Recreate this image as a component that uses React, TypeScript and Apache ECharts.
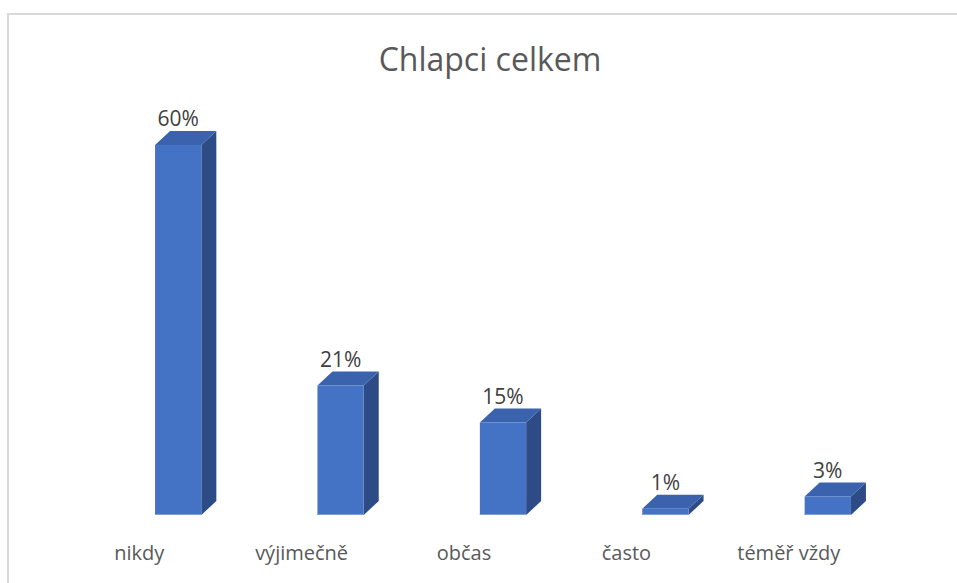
import React, { useEffect, useRef } from "react";
import * as echarts from "echarts";

const titleText = "Chlapci celkem";
const categories = ["nikdy", "výjimečně", "občas", "často", "téměř vždy"];
const values = [60, 21, 15, 1, 3];

const FONT = "'Open Sans', 'Noto Sans', sans-serif";

export default function App() {
  const ref = useRef<HTMLDivElement>(null);

  useEffect(() => {
    if (!ref.current) return;
    const chart = echarts.init(ref.current, null, { renderer: "svg" });

    const dx = 15;
    const dy = 14;

    const renderItem = (params: any, api: any) => {
      const idx = api.value(0);
      const val = api.value(1);
      const base = api.coord([idx, 0]);
      const topP = api.coord([idx, val]);
      const bw = api.size([1, 0])[0] * 0.285;
      const cx = base[0];
      const x0 = cx - bw / 2;
      const x1 = cx + bw / 2;
      const yb = base[1];
      const yt = topP[1];
      return {
        type: "group",
        children: [
          {
            type: "polygon",
            shape: {
              points: [
                [x1, yt],
                [x1 + dx, yt - dy],
                [x1 + dx, yb - dy],
                [x1, yb],
              ],
            },
            style: { fill: "#2D4C85" },
          },
          {
            type: "polygon",
            shape: {
              points: [
                [x0, yt],
                [x1, yt],
                [x1 + dx, yt - dy],
                [x0 + dx, yt - dy],
              ],
            },
            style: { fill: "#3A62AD" },
          },
          {
            type: "rect",
            shape: { x: x0, y: yt, width: bw, height: yb - yt },
            style: { fill: "#4472C4" },
          },
          {
            type: "line",
            shape: { x1: x0, y1: yb - 0.5, x2: x1, y2: yb - 0.5 },
            style: { stroke: "#7F9FD8", lineWidth: 1 },
          },
          {
            type: "text",
            style: {
              x: cx,
              y: yt - 27,
              text: val + "%",
              fill: "#404040",
              font: `21px ${FONT}`,
              align: "center",
              verticalAlign: "middle",
            },
          },
        ],
      };
    };

    chart.setOption({
      animation: false,
      backgroundColor: "#ffffff",
      title: {
        text: titleText,
        left: 485,
        textAlign: "center",
        top: 37,
        textStyle: {
          fontFamily: FONT,
          fontSize: 32,
          fontWeight: "normal",
          color: "#595959",
        },
      },
      graphic: [
        {
          type: "rect",
          shape: { x: 8, y: 14, width: 970, height: 600 },
          style: { fill: "none", stroke: "#D9D9D9", lineWidth: 2 },
          silent: true,
        },
      ],
      grid: { left: 97, width: 812, top: 145, bottom: 68 },
      xAxis: {
        type: "category",
        data: categories,
        axisLine: { show: false },
        axisTick: { show: false },
        axisLabel: {
          fontFamily: FONT,
          fontSize: 20,
          color: "#595959",
          margin: 27,
          lineHeight: 20,
          padding: [0, 78, 0, 0],
        },
      },
      yAxis: {
        type: "value",
        min: 0,
        max: 60,
        show: false,
        splitLine: { show: false },
      },
      series: [
        {
          type: "custom",
          renderItem,
          clip: false,
          data: values.map((v, i) => [i, v]),
          encode: { x: 0, y: 1 },
        },
      ],
    });

    return () => chart.dispose();
  }, []);

  return (
    <div
      ref={ref}
      style={{ position: "absolute", left: 0, top: 0, width: 957, height: 583 }}
    />
  );
}
